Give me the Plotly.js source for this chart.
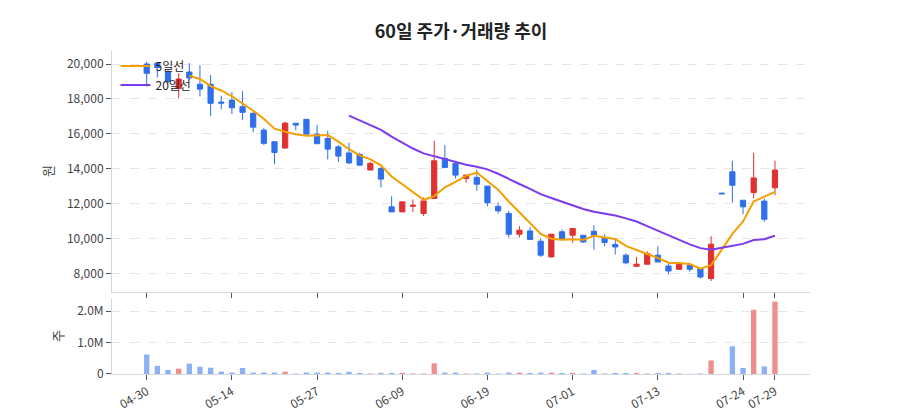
<!DOCTYPE html>
<html>
<head>
<meta charset="utf-8">
<script src="https://cdn.plot.ly/plotly-3.0.1.min.js"></script>
<style>html,body{margin:0;padding:0;background:#fff;}#chart{width:900px;height:420px;}</style>
</head>
<body>
<div id="chart"></div>
<script>
const dates = ['04-30','05-02','05-06','05-07','05-08','05-09','05-12','05-13','05-14','05-15',
  '05-16','05-19','05-20','05-21','05-22','05-23','05-27','05-28','05-29','05-30',
  '06-02','06-04','06-05','06-06','06-09','06-10','06-11','06-12','06-13','06-16',
  '06-17','06-18','06-19','06-20','06-23','06-24','06-25','06-26','06-27','06-30',
  '07-01','07-02','07-03','07-04','07-07','07-08','07-09','07-10','07-13','07-15',
  '07-16','07-17','07-18','07-21','07-22','07-23','07-24','07-25','07-28','07-29'];

const openP = [20000,20050,19550,18600,19540,18840,18840,17820,17930,17550,
  17170,16210,15540,15180,16600,16830,15980,15730,15250,14900,
  14820,13920,14010,11810,11520,11840,11430,12290,14590,14300,
  13440,13500,13000,11840,11430,10240,10430,9840,8940,10380,
  10180,10180,10410,9990,9650,9040,8400,8520,9040,8420,
  8230,8460,8280,7700,12600,13820,12190,12630,12140,12900];
const highP = [20130,20100,19700,19470,20050,19940,19370,18180,18390,18450,
  17260,16330,15580,16690,16610,16850,16500,16170,15350,15480,
  14910,14390,14100,12420,12100,12230,12350,15600,15350,14450,
  13630,13920,13000,12060,11580,10700,10660,10000,10240,10510,
  10570,10200,10760,10240,9940,9130,8940,9270,9550,8590,
  8550,8560,8300,10130,12600,14450,12190,14910,12290,14450];
const lowP = [18700,19230,18900,18030,19080,18150,17020,17400,17130,16800,
  16080,15350,14260,15180,16200,15980,15430,14530,14390,14260,
  14200,13920,12920,11520,11520,11520,11280,12290,14070,13440,
  13190,12730,11850,11430,10050,10050,9940,8940,8900,9900,
  9740,9740,9360,9550,9080,8520,8400,8520,8650,7930,
  8200,8080,7700,7560,12560,12060,11390,12290,10950,12480];
const closeP = [19470,19800,19000,19140,19200,18560,17750,17760,17490,17230,
  16380,15450,14930,16610,16500,15980,15430,15120,14720,14330,
  14200,14300,13400,11520,12100,11900,12150,14450,14070,13630,
  13630,13110,12040,11580,10240,10470,9940,9040,10240,9940,
  10570,9800,10180,9770,9510,8600,8520,9130,8650,8130,
  8520,8230,7790,9670,12560,13050,11810,13470,11100,13920];
const volume = [620000,260000,130000,170000,330000,230000,200000,75000,45000,190000,
  45000,45000,45000,75000,15000,45000,45000,45000,35000,70000,
  35000,15000,35000,35000,35000,15000,15000,340000,45000,45000,
  15000,15000,45000,15000,45000,45000,35000,45000,45000,35000,
  35000,15000,130000,15000,35000,35000,35000,15000,35000,35000,
  15000,5000,15000,430000,3000,880000,190000,2040000,240000,2300000];

const tickDates = ['04-30','05-14','05-27','06-09','06-19','07-01','07-13','07-24','07-29'];
const priceTicks = [8000,10000,12000,14000,16000,18000,20000];
const volTicks = [0,1000000,2000000];
const volTickText = ['0','1.0M','2.0M'];

function movingAvg(arr, n){
  return arr.map((v,i)=>{
    if(i < n-1) return null;
    let s = 0; for(let k=i-n+1;k<=i;k++) s += arr[k];
    return s/n;
  });
}
const ma5 = movingAvg(closeP,5);
const ma20 = movingAvg(closeP,20);

const UP = '#e03131', DOWN = '#2f6fea';
const volColors = closeP.map((c,i)=> c > openP[i] ? 'rgba(224,49,49,0.55)' : 'rgba(47,111,234,0.55)');

const font = "'Noto Sans CJK KR','Noto Sans',sans-serif";

const traces = [
  {type:'candlestick', x:dates, open:openP, high:highP, low:lowP, close:closeP,
   xaxis:'x', yaxis:'y', showlegend:false, whiskerwidth:0,
   increasing:{line:{color:UP,width:1}, fillcolor:UP},
   decreasing:{line:{color:DOWN,width:1}, fillcolor:DOWN},
   hoverinfo:'skip'},
  {type:'scatter', mode:'lines', x:dates, y:ma5, name:'5일선',
   line:{color:'#f59f00',width:2}, xaxis:'x', yaxis:'y'},
  {type:'scatter', mode:'lines', x:dates, y:ma20, name:'20일선',
   line:{color:'#7c3aed',width:2}, xaxis:'x', yaxis:'y'},
  {type:'bar', x:dates, y:volume, marker:{color:volColors}, width:0.5,
   xaxis:'x2', yaxis:'y2', showlegend:false}
];

const axisLine = '#d3d7de';
const layout = {
  width:900, height:420,
  margin:{l:112, r:90, t:50, b:46},
  paper_bgcolor:'#fff', plot_bgcolor:'#fff',
  font:{family:font, size:12, color:'#444'},
  title:{text:'<b>60일 주가·거래량 추이</b>', x:0.5, xref:'paper', xanchor:'center',
         y:1-32/420, yref:'container', yanchor:'middle',
         font:{family:font, size:18, color:'#222'}},
  showlegend:true,
  legend:{x:0.005, y:0.995, xanchor:'left', yanchor:'top', bgcolor:'rgba(0,0,0,0)',
          font:{family:font, size:12, color:'#222'}},
  xaxis:{type:'category', domain:[0,1], anchor:'y', range:[-3.26,62.29],
         rangeslider:{visible:false}, showgrid:false, showline:true, linecolor:axisLine,
         ticks:'outside', ticklen:5, tickcolor:'#555', tickvals:tickDates, showticklabels:false,
         fixedrange:true},
  yaxis:{domain:[0.253,1], range:[6926,20804], tickvals:priceTicks, tickformat:',',
         showline:true, linecolor:axisLine, ticks:'outside', ticklen:5, tickcolor:'#555',
         gridcolor:'#e6e6e6', griddash:'dash', zeroline:false,
         title:{text:'원', font:{family:font, size:13, color:'#444'}, standoff:10}},
  xaxis2:{type:'category', domain:[0,1], anchor:'y2', range:[-3.26,62.29], matches:'x',
          showgrid:false, showline:true, linecolor:axisLine,
          ticks:'outside', ticklen:5, tickcolor:'#555', tickvals:tickDates, ticktext:tickDates,
          tickangle:-30, tickfont:{family:font, size:12, color:'#444'}},
  yaxis2:{domain:[0,0.2346], range:[0,2415000], tickvals:volTicks, ticktext:volTickText,
          showline:true, linecolor:axisLine, ticks:'outside', ticklen:5, tickcolor:'#555',
          gridcolor:'#e6e6e6', griddash:'dash', zeroline:false,
          title:{text:'주', font:{family:font, size:13, color:'#444'}, standoff:10}},
  bargap:0.5
};

Plotly.newPlot('chart', traces, layout, {displayModeBar:false, staticPlot:true});
</script>
</body>
</html>
